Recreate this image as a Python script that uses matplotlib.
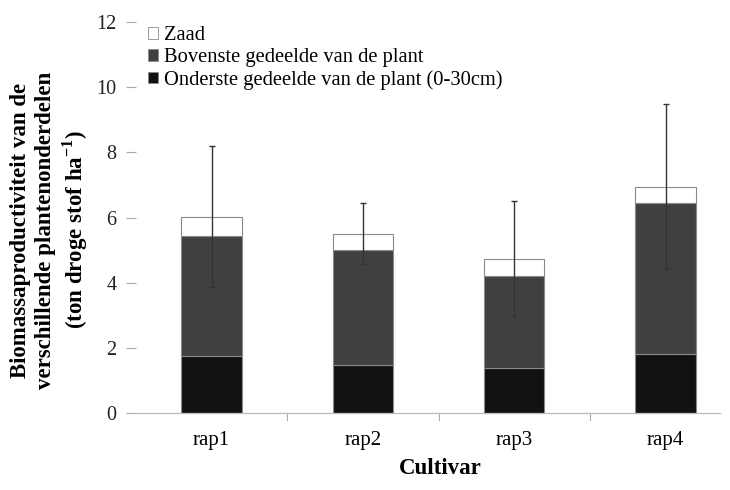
import matplotlib
matplotlib.use("Agg")
import matplotlib.pyplot as plt
from matplotlib.patches import Patch

plt.rcParams['font.family'] = ['Liberation Serif', 'DejaVu Serif']
plt.rcParams['mathtext.fontset'] = 'custom'
plt.rcParams['mathtext.rm'] = 'Liberation Serif'
plt.rcParams['mathtext.bf'] = 'Liberation Serif:bold'

cultivars = ["rap1", "rap2", "rap3", "rap4"]
lower_part = [1.75, 1.46, 1.38, 1.81]      # Onderste gedeelde (0-30cm)
upper_part = [3.67, 3.54, 2.82, 4.62]      # Bovenste gedeelde
seed = [0.61, 0.50, 0.54, 0.52]            # Zaad
total_err = [2.16, 0.93, 1.77, 2.54]
yticks = [0, 2, 4, 6, 8, 10, 12]

labels = ["Zaad", "Bovenste gedeelde van de plant",
          "Onderste gedeelde van de plant (0-30cm)"]

fig = plt.figure(figsize=(7.3, 4.9), dpi=100)
ax = fig.add_axes([136 / 730, 1 - 413 / 490, (720 - 136) / 730, (413 - 22) / 490])

x = list(range(len(cultivars)))
w = 0.40
edge = "#8a8a8a"
ax.bar(x, lower_part, w, color="#111111", edgecolor=edge, linewidth=0.8, zorder=2)
ax.bar(x, upper_part, w, bottom=lower_part, color="#404040", edgecolor=edge,
       linewidth=0.8, zorder=2)
base2 = [a + b for a, b in zip(lower_part, upper_part)]
ax.bar(x, seed, w, bottom=base2, color="white", edgecolor=edge, linewidth=0.8, zorder=2)
totals = [a + b for a, b in zip(base2, seed)]
ax.errorbar(x, totals, yerr=total_err, fmt="none", ecolor="#333333",
            elinewidth=1.0, capsize=2.5, capthick=1.0, zorder=3)

ax.set_ylim(0, 12)
ax.set_xlim(-0.5, 3.36)
ax.set_yticks(yticks)
ax.set_yticklabels([str(v) for v in yticks], fontsize=14.5, color="#222222")
ax.set_xticks(x)
ax.set_xticklabels(cultivars, fontsize=15)
ax.tick_params(axis="x", length=0, pad=13)
ax.tick_params(axis="y", length=7, color="#aaaaaa", width=0.8, pad=7)
# category separators on the x axis
for b in [0.5, 1.5, 2.5]:
    ax.plot([b, b], [0, -0.22], color="#aaaaaa", lw=0.8, clip_on=False)

for s in ["top", "right", "left"]:
    ax.spines[s].set_visible(False)
ax.spines["bottom"].set_color("#bbbbbb")
ax.spines["bottom"].set_linewidth(0.9)

ax.set_xlabel("Cultivar", fontsize=16.5, fontweight="bold")
ax.xaxis.set_label_coords((440 - 136) / 584, -0.115)
fig.text(50 / 730, 1 - 230 / 490,
         "Biomassaproductiviteit van de\nverschillende plantenonderdelen\n(ton droge stof ha$^{\\mathbf{-1}}$)",
         rotation=90, ha="center", va="center", fontsize=16.5, fontweight="bold",
         linespacing=1.22)

handles = [Patch(facecolor="white", edgecolor=edge, linewidth=0.6),
           Patch(facecolor="#404040", edgecolor=edge, linewidth=0.6),
           Patch(facecolor="#111111", edgecolor=edge, linewidth=0.6)]
fig.legend(handles, labels, loc="upper left", bbox_to_anchor=(148 / 730, 1 - 26 / 490),
           frameon=False, fontsize=14.8, handlelength=0.5, handleheight=0.5,
           handletextpad=0.3, labelspacing=0.15, borderpad=0, borderaxespad=0)

fig.savefig("out.png", dpi=100)
